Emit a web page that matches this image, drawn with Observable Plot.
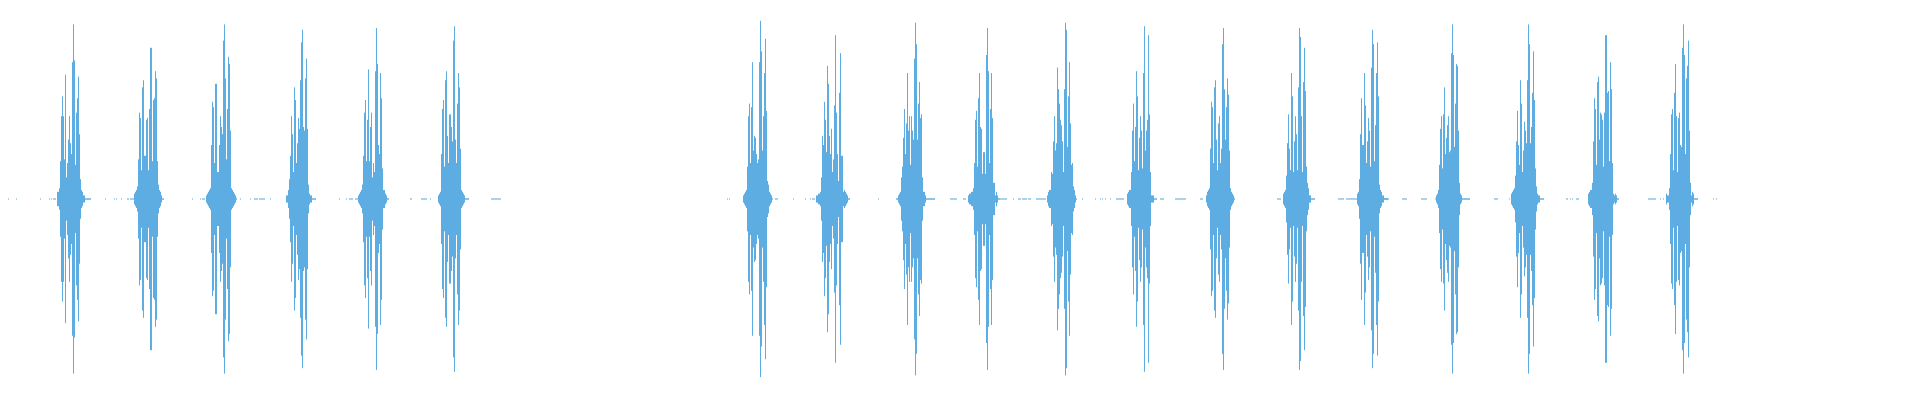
<!DOCTYPE html>
<html>
<head>
<meta charset="utf-8">
<script src="https://cdn.jsdelivr.net/npm/d3@7"></script>
<script src="https://cdn.jsdelivr.net/npm/@observablehq/plot@0.6"></script>
<style>
  html, body { margin: 0; padding: 0; background: #ffffff; }
  #chart svg { display: block; }
</style>
</head>
<body>
<div id="chart"></div>
<script>
// Column (sample block) where each burst starts
const burstStart = [57, 134, 206, 286, 358, 438, 743, 816, 896, 968, 1047, 1127, 1206, 1283, 1357, 1436, 1511, 1588, 1666];

// Peak amplitude (% of full scale) per column, for each burst
const burst01 = [4,4,6,21,46,57,46,22,69,12,20,33,46,31,25,76,97,77,19,48,56,68,36,11,5,4,2,2,0.4,0.4,0.4,0.4,0.4,0.4];
const burst02 = [3,4,5,7,22,48,45,16,62,66,24,24,44,45,16,50,84,84,21,55,56,71,67,21,8,5,4,2,0.4,0.4];
const burst03 = [2,3,4,5,6,30,54,51,20,64,64,15,15,30,46,40,36,88,97,67,22,50,79,75,38,6,5,4,3,2,0.4];
const burst04 = [2,2,5,11,24,46,36,15,62,55,20,31,45,39,66,87,94,40,38,67,78,39,8,3,2,2,0.4,0.4,0.4,0.4];
const burst05 = [2,3,4,5,8,24,48,55,21,44,72,21,40,48,12,20,15,71,95,75,30,25,70,56,17,5,5,3,2,0.4,0.4];
const burst06 = [2,3,4,25,50,55,18,66,71,35,20,47,47,40,32,88,96,33,20,53,70,62,28,5,4,3,2,0.4,0.4,0.4,0.4];
const burst07 = [2,3,4,5,18,46,53,20,51,76,27,35,34,25,20,22,76,99,82,27,46,70,89,49,10,8,4,3,2,0.4];
const burst08 = [2,2,3,3,4,12,35,30,54,44,26,74,64,35,25,39,15,22,52,91,48,25,10,59,81,24,24,4,5,4,3,2,0.4,0.4];
const burst09 = [0.4,0.4,2,3,4,12,18,34,50,25,42,70,38,46,19,46,38,33,78,98,86,33,53,65,45,47,12,4,4,2,0.4,0.4,0.4,0.4,0.4,0.4,0.4,0.4,0.4];
const burst10 = [2,3,3,4,4,6,20,44,49,18,56,70,40,39,14,26,26,14,80,95,71,20,50,70,45,9,9,2,4,2,0.4,0.4];
const burst11 = [2,4,5,5,15,14,32,46,27,31,73,61,53,44,41,32,15,61,98,94,29,57,76,42,19,20,7,5,2,0.4];
const burst12 = [3,4,5,5,15,38,53,21,40,71,57,16,34,46,38,17,70,96,27,38,44,91,47,15,2,2,2,0.4,0.4,0.4];
const burst13 = [2,4,5,6,28,54,51,20,62,66,33,16,42,46,20,28,86,95,61,33,51,67,58,27,6,4,3,2,0.4];
const burst14 = [3,4,5,13,31,47,28,16,70,57,15,32,46,36,16,62,95,90,46,15,65,84,60,18,9,6,2,2,0.4,0.4,0.4,0.4];
const burst15 = [3,4,11,36,56,30,30,70,52,20,32,45,38,18,73,94,86,21,41,70,87,57,8,5,4,2,2,0.4,0.4,0.4,0.4];
const burst16 = [2,3,5,19,39,46,17,47,62,25,34,41,46,26,27,81,97,80,29,53,75,74,38,9,3,2,0.4,0.4,0.4,0.4,0.4,0.4,0.4,0.4];
const burst17 = [3,4,5,6,13,32,49,30,19,66,53,15,27,43,38,31,66,97,86,31,40,59,82,55,17,7,3,2,2,0.4,0.4,0.4,0.4];
const burst18 = [3,4,5,5,9,32,56,50,19,65,68,33,48,47,44,18,48,91,91,59,60,21,76,61,20,3,2,3,2,0.4,0.4];
const burst19 = [3,2,2,6,25,47,50,16,59,75,46,15,45,48,30,29,84,97,80,25,67,74,88,38,9,2,4,3,0.4,0.4,0.4,0.4];

// Faint near-silence columns between bursts
const dotCols = [8,16,40,49,51,53,54,55,105,114,116,121,127,128,130,131,132,133,192,200,202,203,204,240,250,254,255,256,257,259,260,261,262,263,264,270,339,346,349,350,351,352,355,356,357,410,411,421,422,423,424,425,426,430,491,492,493,494,495,496,497,498,499,500,727,729,775,776,777,793,805,810,812,813,814,878,950,951,952,953,954,955,956,963,964,965,1000,1001,1002,1003,1004,1005,1006,1013,1018,1019,1020,1022,1023,1024,1025,1026,1028,1029,1030,1036,1037,1038,1039,1040,1041,1042,1043,1044,1045,1082,1095,1100,1102,1105,1110,1116,1117,1118,1119,1120,1121,1122,1123,1160,1161,1162,1163,1175,1176,1177,1178,1179,1180,1181,1182,1183,1184,1185,1200,1201,1202,1277,1278,1279,1280,1338,1339,1340,1341,1342,1343,1346,1347,1348,1349,1350,1351,1352,1353,1354,1355,1356,1384,1385,1386,1387,1388,1402,1403,1404,1405,1406,1421,1422,1423,1424,1425,1426,1435,1494,1495,1496,1497,1509,1566,1567,1570,1572,1576,1577,1578,1648,1649,1650,1651,1652,1653,1654,1655,1660,1663,1713,1716];
const dotAmp = 0.3;

const bursts = [burst01, burst02, burst03, burst04, burst05, burst06, burst07, burst08, burst09, burst10,
                burst11, burst12, burst13, burst14, burst15, burst16, burst17, burst18, burst19];

const rows = [];
bursts.forEach((amps, b) => amps.forEach((a, i) => rows.push({col: burstStart[b] + i, hi: a, lo: -a})));
dotCols.forEach(c => rows.push({col: c, hi: dotAmp, lo: -dotAmp}));

const chart = Plot.plot({
  width: 1920,
  height: 400,
  marginLeft: 0,
  marginRight: 0,
  marginTop: 19,
  marginBottom: 21,
  style: {background: "#ffffff"},
  x: {domain: [0, 1920], axis: null},
  y: {domain: [-100, 100], axis: null},
  marks: [
    Plot.ruleX(rows, {x: "col", y1: "lo", y2: "hi", stroke: "#5DADE2", strokeWidth: 1})
  ]
});
document.getElementById("chart").appendChild(chart);
</script>
</body>
</html>
